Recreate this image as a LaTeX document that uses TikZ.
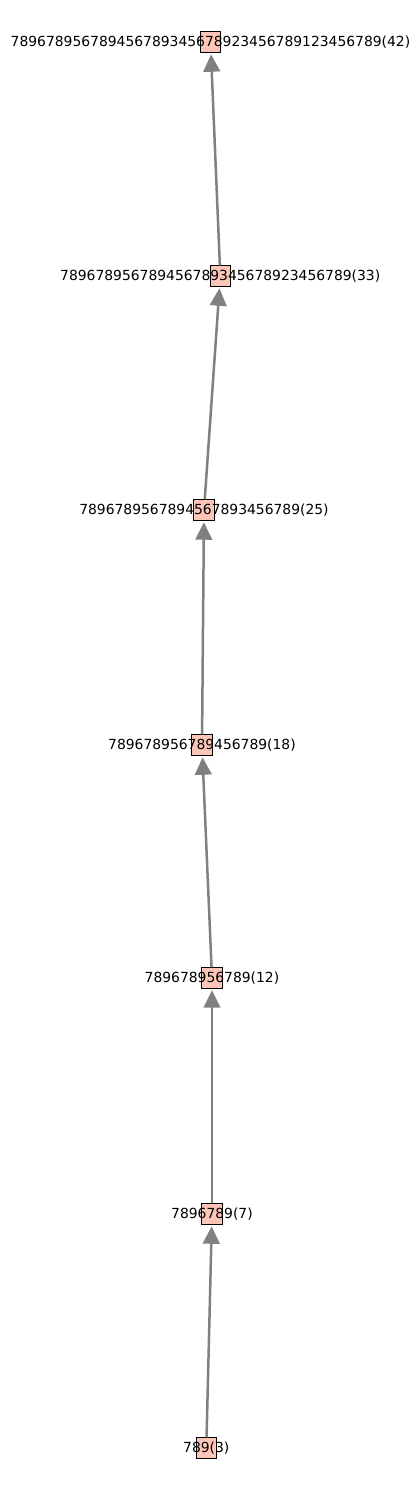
\documentclass[tikz,border=0pt]{standalone}
\usepackage{fontspec}
\setmainfont{DejaVu Sans}
\usetikzlibrary{arrows.meta}
\definecolor{nodefill}{RGB}{252,197,184}
\definecolor{edgegray}{RGB}{128,128,128}
\tikzset{
  vnode/.style = {rectangle, draw=black, fill=nodefill, minimum size=14.6pt, inner sep=0pt, line width=0.8pt},
  vlabel/.style = {font=\fontsize{10}{12}\selectfont, inner sep=0pt, text=black},
  vedge/.style = {draw=edgegray, line width=1.8pt, shorten >=1.2pt, -{Triangle[length=12.5pt,width=12pt]}},
}
\begin{document}
\begin{tikzpicture}[x=0.72pt, y=-0.72pt]
\useasboundingbox (0,0) rectangle (419,1490);
% chain of boxes, bottom to top
\node [vnode, label={[vlabel]center:789(3)}] (n3) at (206.3,1448) {};
\node [vnode, label={[vlabel]center:7896789(7)}] (n7) at (212,1214) {};
\node [vnode, label={[vlabel]center:789678956789(12)}] (n12) at (212,978) {};
\node [vnode, label={[vlabel]center:789678956789456789(18)}] (n18) at (202,745) {};
\node [vnode, label={[vlabel]center:7896789567894567893456789(25)}] (n25) at (204,510) {};
\node [vnode, label={[vlabel]center:789678956789456789345678923456789(33)}] (n33) at (220.3,276) {};
\node [vnode, label={[vlabel]center:789678956789456789345678923456789123456789(42)}] (n42) at (210.5,42) {};
\draw [vedge] (n3) -- (n7);
\draw [vedge] (n7) -- (n12);
\draw [vedge] (n12) -- (n18);
\draw [vedge] (n18) -- (n25);
\draw [vedge] (n25) -- (n33);
\draw [vedge] (n33) -- (n42);
\end{tikzpicture}
\end{document}
